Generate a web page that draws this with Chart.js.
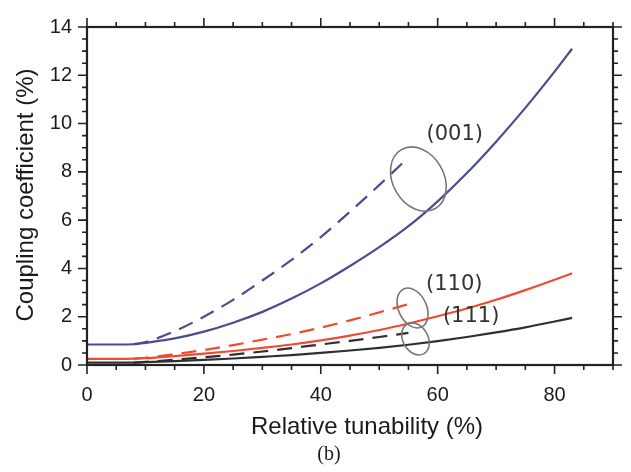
<!DOCTYPE html>
<html>
<head>
<meta charset="utf-8">
<script src="https://cdn.jsdelivr.net/npm/chart.js@4.4.1/dist/chart.umd.min.js"></script>
<style>
  html, body { margin: 0; padding: 0; background: #fff; }
  canvas { display: block; }
</style>
</head>
<body>
<canvas id="chart" width="631" height="472"></canvas>
<script>
// relative tunability (%) sample points
const xSolid = [0, 5, 8, 10, 15, 20, 25, 30, 35, 40, 45, 50, 55, 60, 65, 70, 75, 80, 83];
const xDashed = [8, 10, 15, 20, 25, 30, 35, 40, 45, 50, 55];

// coupling coefficient (%)
const solid001 = [0.85, 0.85, 0.86, 0.92, 1.1, 1.38, 1.75, 2.2, 2.75, 3.38, 4.1, 4.88, 5.75, 6.78, 7.95, 9.25, 10.65, 12.15, 13.1];
const dashed001 = [0.86, 0.95, 1.4, 2.0, 2.7, 3.5, 4.35, 5.3, 6.35, 7.45, 8.6];
const solid110 = [0.25, 0.25, 0.26, 0.28, 0.37, 0.47, 0.58, 0.71, 0.85, 1.02, 1.22, 1.45, 1.72, 2.02, 2.34, 2.7, 3.1, 3.53, 3.8];
const dashed110 = [0.26, 0.3, 0.45, 0.62, 0.82, 1.05, 1.28, 1.55, 1.85, 2.18, 2.52];
const solid111 = [0.1, 0.1, 0.1, 0.12, 0.16, 0.21, 0.27, 0.34, 0.41, 0.5, 0.6, 0.71, 0.84, 0.99, 1.16, 1.35, 1.56, 1.8, 1.95];
const dashed111 = [0.1, 0.13, 0.22, 0.32, 0.43, 0.56, 0.7, 0.85, 1.0, 1.16, 1.33];

const xTickValues = [0, 20, 40, 60, 80];
const yTickValues = [0, 2, 4, 6, 8, 10, 12, 14];
const orientations = ['(001)', '(110)', '(111)'];

const BLUE = '#4b4c90';
const RED = '#ef4b32';
const BLACK = '#2f2f2f';

function pts(xs, ys) {
    return xs.map((x, i) => ({ x: x, y: ys[i] }));
}

function series(xs, ys, color, dashed) {
    return {
        data: pts(xs, ys),
        borderColor: color,
        borderWidth: 2.2,
        borderDash: dashed ? [15, 9] : [],
        pointRadius: 0,
        fill: false,
        cubicInterpolationMode: 'monotone'
    };
}

// ellipse marks + labels, placed in data units
const notes = [
    { text: orientations[0], tx: 58.1, ty: 9.56, ex: 56.7, ey: 7.7, rx: 34, ry: 25.5, rot: 60 },
    { text: orientations[1], tx: 58.0, ty: 3.32, ex: 55.7, ey: 2.36, rx: 21, ry: 14, rot: 65 },
    { text: orientations[2], tx: 60.9, ty: 2.0, ex: 56.2, ey: 1.08, rx: 17, ry: 12.5, rot: 60 }
];

const framePlugin = {
    id: 'framePlugin',
    afterDraw(chart) {
        const ctx = chart.ctx;
        const a = chart.chartArea;
        const xs = chart.scales.x;
        const ys = chart.scales.y;
        ctx.save();

        // ellipses and orientation labels
        ctx.strokeStyle = '#777';
        ctx.lineWidth = 1.6;
        notes.forEach(n => {
            ctx.beginPath();
            ctx.ellipse(xs.getPixelForValue(n.ex), ys.getPixelForValue(n.ey), n.rx, n.ry, n.rot * Math.PI / 180, 0, Math.PI * 2);
            ctx.stroke();
        });
        ctx.fillStyle = '#333';
        ctx.font = '21px "DejaVu Sans", sans-serif';
        ctx.textAlign = 'left';
        ctx.textBaseline = 'middle';
        notes.forEach(n => {
            ctx.fillText(n.text, xs.getPixelForValue(n.tx), ys.getPixelForValue(n.ty));
        });

        // box
        ctx.strokeStyle = '#222';
        ctx.lineWidth = 2.2;
        ctx.strokeRect(a.left, a.top, a.right - a.left, a.bottom - a.top);

        // outward ticks on all four sides
        ctx.lineWidth = 1.6;
        ctx.beginPath();
        for (let v = xs.min; v <= xs.max; v += 5) {
            const px = xs.getPixelForValue(v);
            const len = v % 20 === 0 ? 9 : 5;
            ctx.moveTo(px, a.bottom); ctx.lineTo(px, a.bottom + len);
            ctx.moveTo(px, a.top); ctx.lineTo(px, a.top - len);
        }
        for (let i = 0; i <= ys.max * 2; i++) {
            const py = ys.getPixelForValue(i / 2);
            const len = i % 4 === 0 ? 9 : 5;
            ctx.moveTo(a.left, py); ctx.lineTo(a.left - len, py);
            ctx.moveTo(a.right, py); ctx.lineTo(a.right + len, py);
        }
        ctx.stroke();

        // axis titles
        ctx.fillStyle = '#1a1a1a';
        ctx.font = '24px "Liberation Sans", Arial, sans-serif';
        ctx.textAlign = 'center';
        ctx.fillText('Relative tunability (%)', 367, 427);
        ctx.save();
        ctx.translate(26, 195);
        ctx.rotate(-Math.PI / 2);
        ctx.fillText('Coupling coefficient (%)', 0, 0);
        ctx.restore();

        ctx.font = '20px "Liberation Serif", "Times New Roman", serif';
        ctx.fillText('(b)', 329, 455);
        ctx.restore();
    }
};

Chart.defaults.font.family = '"Liberation Sans", Arial, sans-serif';
Chart.defaults.color = '#1a1a1a';

new Chart(document.getElementById('chart'), {
    type: 'line',
    plugins: [framePlugin],
    data: {
        datasets: [
            series(xSolid, solid001, BLUE, false),
            series(xDashed, dashed001, BLUE, true),
            series(xSolid, solid110, RED, false),
            series(xDashed, dashed110, RED, true),
            series(xSolid, solid111, BLACK, false),
            series(xDashed, dashed111, BLACK, true)
        ]
    },
    options: {
        responsive: false,
        animation: false,
        layout: { padding: { top: 15, right: 18, left: 0, bottom: 0 } },
        plugins: {
            legend: { display: false },
            tooltip: { enabled: false }
        },
        scales: {
            x: {
                type: 'linear',
                min: 0,
                max: 90,
                afterBuildTicks: s => { s.ticks = xTickValues.map(v => ({ value: v })); },
                afterFit: s => { s.height = 107; },
                grid: { display: false, drawTicks: false },
                border: { display: false },
                ticks: { padding: 18, font: { size: 20 } }
            },
            y: {
                min: 0,
                max: 14,
                afterBuildTicks: s => { s.ticks = yTickValues.map(v => ({ value: v })); },
                afterFit: s => { s.width = 87; },
                grid: { display: false, drawTicks: false },
                border: { display: false },
                ticks: { padding: 15, font: { size: 20 } }
            }
        }
    }
});
</script>
</body>
</html>
